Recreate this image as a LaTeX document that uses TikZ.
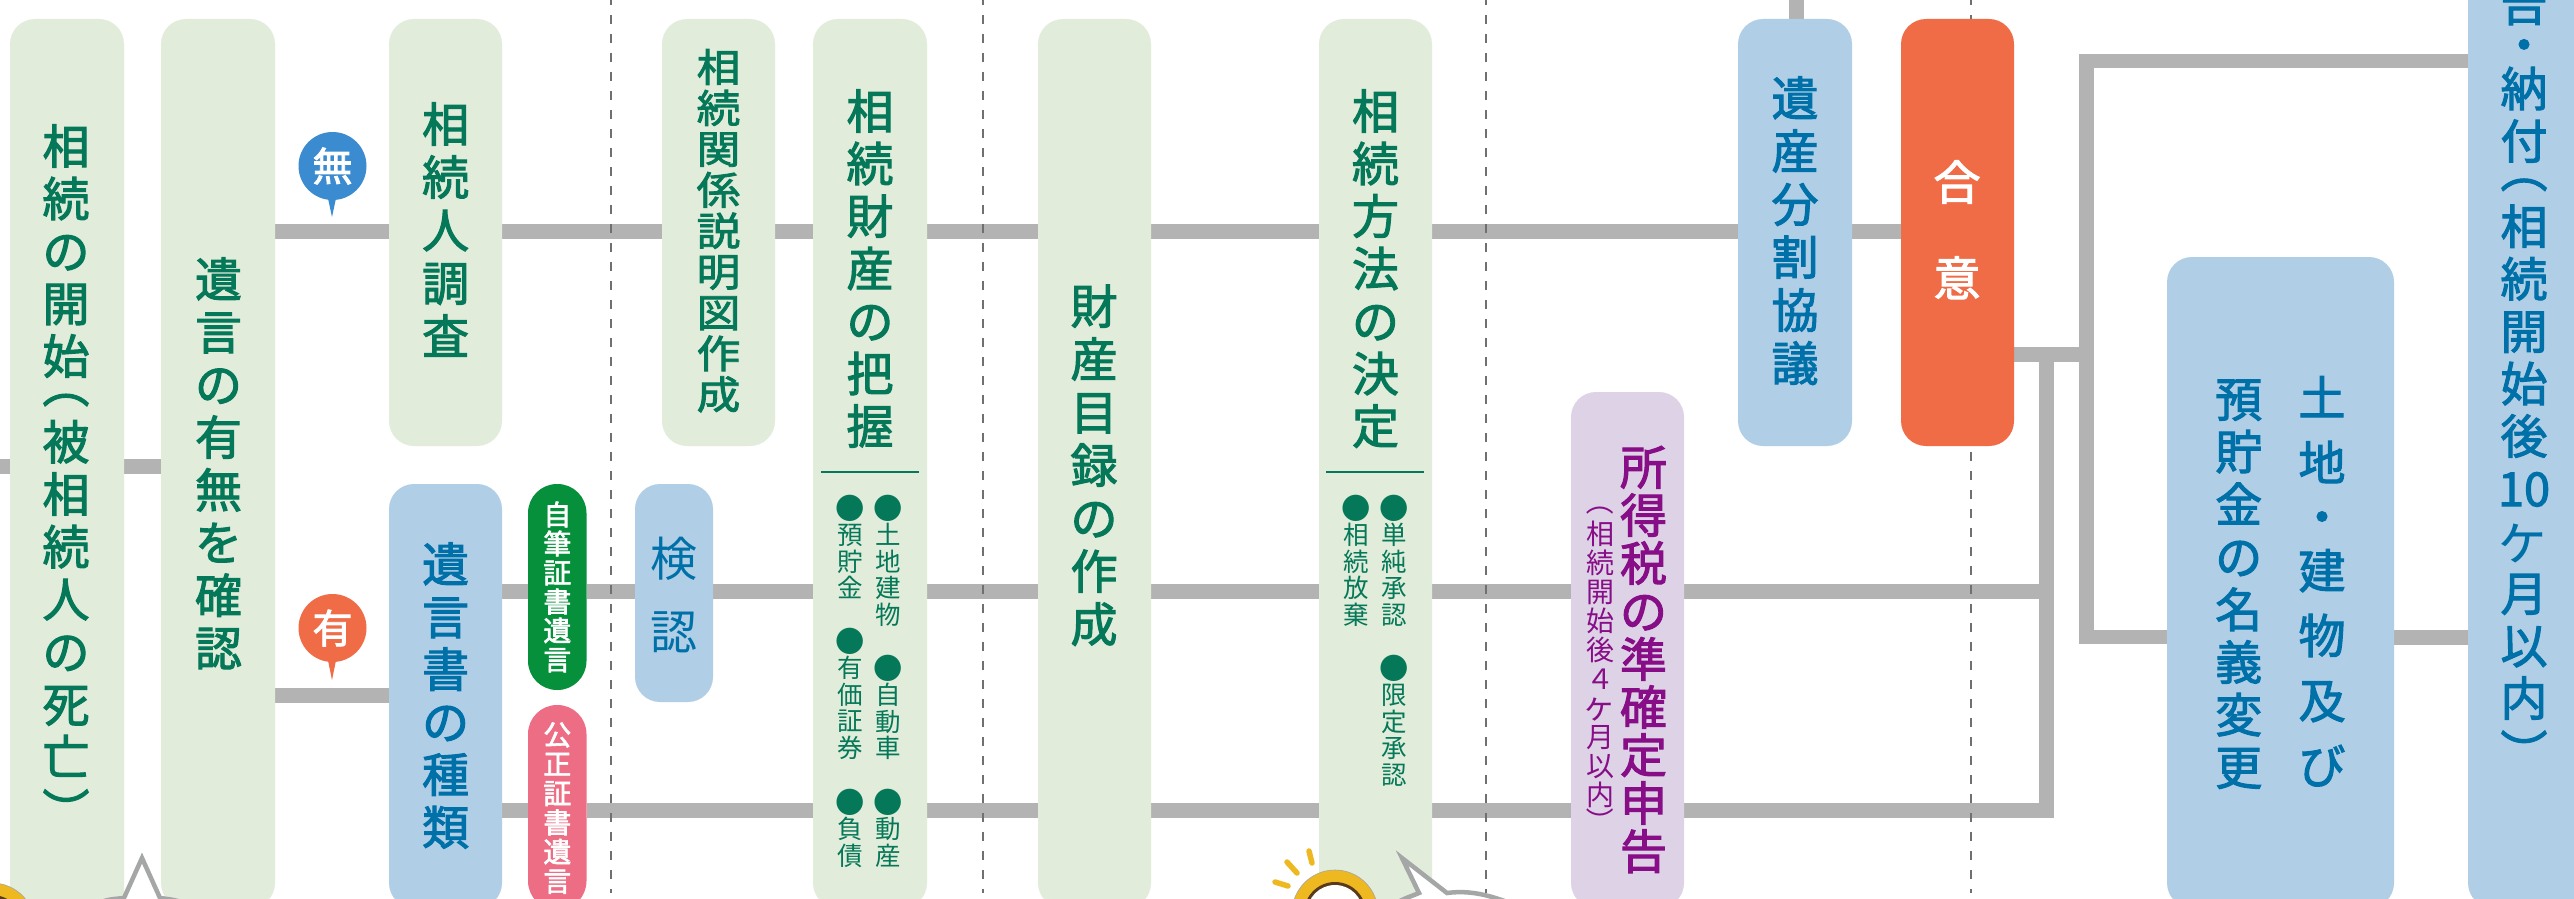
\documentclass[tikz,border=0pt]{standalone}
\usepackage{fontspec}
\usepackage{graphicx}
\usetikzlibrary{backgrounds}
\newfontfamily\jpr{Noto Sans CJK JP}
\newfontfamily\jpb[FakeBold=2.2]{Noto Sans CJK JP}
\newfontfamily\jpw[FakeBold=2.2,FakeStretch=1.12]{Noto Sans CJK JP}
\definecolor{linegray}{HTML}{B2B3B2}
\definecolor{dashgray}{HTML}{6F7071}
\definecolor{boxgreen}{HTML}{E2ECDB}
\definecolor{boxblue}{HTML}{B0CFE6}
\definecolor{boxpurple}{HTML}{DDD2E6}
\definecolor{boxorange}{HTML}{EF6C47}
\definecolor{pillgreen}{HTML}{07903C}
\definecolor{pillpink}{HTML}{ED6D84}
\definecolor{txtgreen}{HTML}{047858}
\definecolor{txtblue}{HTML}{0070A8}
\definecolor{txtpurple}{HTML}{880E87}
\definecolor{mkblue}{HTML}{3A8BCF}
\definecolor{bubblegray}{HTML}{A5A6A6}
\definecolor{bulbyellow}{HTML}{EDB820}
\definecolor{bulbbrown}{HTML}{5A3A1A}
\makeatletter
\newdimen\vtp
\def\vtcut{22}
\newcommand\vtpl{\raise.27em\hbox{\rotatebox[origin=c]{-90}{（}}}
\newcommand\vtpr{\lower.27em\hbox{\rotatebox[origin=c]{-90}{）}}}
\newcommand\vtdot{・}
\newcommand\vtke{\kern-.05em\hbox{\jpr\scalebox{1.2}{ヶ}}}
\newcommand\vtbul{\lower.06em\hbox{\scalebox{1.15}{●}}}
\def\vt@a{\vtpl}\def\vt@b{\vtpr}\def\vt@d{\vtdot}
\newcommand\vt@cell[1]{%
  \vtp=#1pt
  \ifx\vt@c\vt@a\advance\vtp by -\vtcut pt\fi
  \ifx\vt@c\vt@b\advance\vtp by -\vtcut pt\fi
  \ifx\vt@c\vt@d\advance\vtp by -\vtcut pt\fi
  \hbox to 1.2em{\hss\vrule height\vtp depth0pt width0pt
    \raise\dimexpr.5\vtp-.38em\relax\hbox{\smash{\vt@c}}\hss}}
\newcommand\vstack[2]{\vbox{\offinterlineskip\@tfor\vt@c:=#2\do{\vt@cell{#1}}}}
\makeatother
% \vt[style]{name}{x}{y of the first cell's centre}{pitch}{characters}
\newcommand\vt[6][]{\node[vtext,#1] (#2) at (#3,{#4-#5/2}) {\vstack{#5}{#6}};}
% \bx[style]{name}{x1}{y1}{x2}{y2}
\newcommand\bx[6][]{\node[boxnode,#1,minimum width={(#5-#3)*1pt},minimum height={(#6-#4)*1pt}] (#2) at ({(#3+#5)/2},{(#4+#6)/2}) {};}
\tikzset{
  boxnode/.style={rectangle,rounded corners=25pt,inner sep=0pt,outer sep=0pt,draw=none},
  gbox/.style={fill=boxgreen},
  bbox/.style={fill=boxblue},
  vtext/.style={anchor=north,inner sep=0pt,outer sep=0pt},
  tg/.style={text=txtgreen,font=\jpb\fontsize{47}{47}\selectfont},
  tb/.style={text=txtblue,font=\jpb\fontsize{47}{47}\selectfont},
  tw/.style={text=white,font=\jpb\fontsize{47}{47}\selectfont},
  tthin/.style={text=txtblue,font=\jpr\fontsize{47}{47}\selectfont},
  tdia/.style={text=txtgreen,font=\jpw\fontsize{39}{39}\selectfont},
  tbul/.style={text=txtgreen,font=\jpr\fontsize{25.5}{25.5}\selectfont},
  tpill/.style={text=white,font=\jpb\fontsize{28}{28}\selectfont},
  tpu/.style={text=txtpurple,font=\jpb\fontsize{47}{47}\selectfont},
  tpus/.style={text=txtpurple,font=\jpr\fontsize{28}{28}\selectfont},
  conn/.style={line width=15pt,color=linegray},
  connv/.style={line width=14.5pt,color=linegray,line join=miter},
  divider/.style={line width=2pt,color=dashgray,dash pattern=on 9pt off 10pt,dash phase=4pt},
  sepline/.style={line width=1.2pt,color=txtgreen},
  marker/.style={circle,minimum size=68pt,inner sep=0pt,outer sep=0pt,text=white,font=\jpb\fontsize{40}{40}\selectfont},
  bubble/.style={fill=white,draw=bubblegray,line width=4.5pt,line join=miter,miter limit=10},
  ray/.style={line width=5.5pt,line cap=round,color=bulbyellow}
}
\begin{document}
\begin{tikzpicture}[x=1pt,y=-1pt]
\path[use as bounding box] (0,0) rectangle (2574,899);
% boxes
\bx[gbox]{A}{10}{19}{124}{925}
\bx[gbox]{B}{161}{19}{275}{908}
\bx[gbox]{C}{389}{19}{502}{446}
\bx[bbox]{J}{389}{484}{502}{908}
\bx[gbox]{D}{662}{19}{775}{446}
\bx[gbox]{E}{813}{19}{927}{908}
\bx[gbox]{F}{1038}{19}{1151}{908}
\bx[gbox]{G}{1319}{19}{1432}{908}
\bx[bbox]{H}{1738}{19}{1852}{446}
\bx[fill=boxorange]{I}{1901}{19}{2014}{446}
\bx[bbox]{K}{635}{484}{713}{702}
\bx[fill=boxpurple]{L}{1571}{392}{1684}{908}
\bx[bbox]{M}{2167}{257}{2394}{908}
\bx[bbox]{R}{2468}{-60}{2600}{908}
\bx[fill=pillgreen,rounded corners=29pt]{P1}{528}{484}{586.5}{690}
\bx[fill=pillpink,rounded corners=29pt]{P2}{528}{705}{586.5}{910}
% row coordinates
\coordinate (r0) at (0,466.5);
\coordinate (r1) at (0,231.5);
\coordinate (r2) at (0,591.5);
\coordinate (r3) at (0,810.5);
\coordinate (r4) at (0,695.5);
\coordinate (r5) at (0,354.5);
\coordinate (top) at (1796.5,0);
\coordinate (v1) at (2046.5,0);
\coordinate (v1b) at (2046.5,818);
\coordinate (v2a) at (2086.5,61);
\coordinate (v2b) at (2086.5,637);
\begin{scope}[on background layer]
\fill[white] (0,0) rectangle (2574,899);
\draw[conn] (r0) -- (A.west |- r0);
\draw[conn] (A.east |- r0) -- (B.west |- r0);
\draw[conn] (B.east |- r1) -- (C.west |- r1);
\draw[conn] (C.east |- r1) -- (D.west |- r1);
\draw[conn] (D.east |- r1) -- (E.west |- r1);
\draw[conn] (E.east |- r1) -- (F.west |- r1);
\draw[conn] (F.east |- r1) -- (G.west |- r1);
\draw[conn] (G.east |- r1) -- (H.west |- r1);
\draw[conn] (H.east |- r1) -- (I.west |- r1);
\draw[conn] (top) -- (H.north -| top);
\draw[conn] (B.east |- r4) -- (J.west |- r4);
\draw[conn] (J.east |- r2) -- (P1.west |- r2);
\draw[conn] (P1.east |- r2) -- (K.west |- r2);
\draw[conn] (K.east |- r2) -- (E.west |- r2);
\draw[conn] (E.east |- r2) -- (F.west |- r2);
\draw[conn] (F.east |- r2) -- (G.west |- r2);
\draw[conn] (G.east |- r2) -- (L.west |- r2);
\draw[conn] (L.east |- r2) -- (v1 |- r2);
\draw[conn] (J.east |- r3) -- (P2.west |- r3);
\draw[conn] (P2.east |- r3) -- (E.west |- r3);
\draw[conn] (E.east |- r3) -- (F.west |- r3);
\draw[conn] (F.east |- r3) -- (G.west |- r3);
\draw[conn] (G.east |- r3) -- (L.west |- r3);
\draw[conn] (L.east |- r3) -- (v1 |- r3);
\draw[conn] (I.east |- r5) -- (v2a |- r5);
\draw[connv] (v1 |- r5) -- (v1b);
\draw[connv] (R.west |- v2a) -- (v2a) -- (v2b) -- (M.west |- v2b);
\draw[conn] (M.east |- v2b) -- (R.west |- v2b);
\foreach \dx in {611,983,1485.7,1971} \draw[divider] (\dx,0) -- (\dx,893);
\end{scope}
% markers
\fill[mkblue] (327.5,196) -- (332,217) -- (336.5,196) -- cycle;
\node[marker,fill=mkblue] (nashi) at (332.5,166) {無};
\fill[boxorange] (327.5,658) -- (332,680) -- (336.5,658) -- cycle;
\node[marker,fill=boxorange] (ari) at (332.5,628) {有};
% vertical texts
\vt[tg]{tA}{66}{146}{52.5}{相続の開始\vtpl 被相続人の死亡\vtpr}
\vt[tg]{tB}{218.5}{279}{52.7}{遺言の有無を確認}
\vt[tg]{tC}{445.6}{124}{53}{相続人調査}
\vt[tb]{tJ}{445.6}{564}{52.6}{遺言書の種類}
\vt[tdia]{tD}{718.5}{67}{40.9}{相続関係説明図作成}
\vt[tg]{tE}{870}{111}{52.5}{相続財産の把握}
\vt[tg]{tF}{1094}{306}{53}{財産目録の作成}
\vt[tg]{tG}{1375.5}{111}{52.5}{相続方法の決定}
\vt[tb]{tH}{1795}{98}{53}{遺産分割協議}
\vt[tw]{tI}{1957}{182}{96}{合意}
\vt[tthin]{tK}{674}{559}{73}{検認}
\vt[tpill]{tP1}{557.3}{514.5}{29}{自筆証書遺言}
\vt[tpill]{tP2}{557.3}{734.5}{29.3}{公正証書遺言}
\vt[tpu]{tL}{1643.5}{467}{48}{所得税の準確定申告}
\def\vtcut{20}
\vt[tpus]{tLs}{1600}{519}{29}{\vtpl 相続開始後４\vtke 月以内\vtpr}
\def\vtcut{22}
\vt[tb]{tM1}{2322}{397.5}{65}{土地\vtdot 建物及び}
\vt[tb]{tM2}{2238.7}{399}{52.6}{預貯金の名義変更}
\vt[tb]{tR}{2524}{3}{52.4}{告\vtdot 納付\vtpl 相続開始後{10}\vtke 月以内\vtpr}
% separators and bullet lists
\draw[sepline] (821,472) -- (919,472);
\draw[sepline] (1326,472) -- (1424,472);
\vt[tbul]{e1}{888}{508}{26.7}{\vtbul 土地建物}
\vt[tbul]{e2}{888}{668}{26.7}{\vtbul 自動車}
\vt[tbul]{e3}{888}{802}{26.7}{\vtbul 動産}
\vt[tbul]{e4}{850}{508}{26.7}{\vtbul 預貯金}
\vt[tbul]{e5}{850}{641}{26.7}{\vtbul 有価証券}
\vt[tbul]{e6}{850}{802}{26.7}{\vtbul 負債}
\vt[tbul]{g1}{1394}{508}{26.7}{\vtbul 単純承認}
\vt[tbul]{g2}{1394}{668}{26.7}{\vtbul 限定承認}
\vt[tbul]{g3}{1356}{508}{26.7}{\vtbul 相続放棄}
% speech bubbles
\filldraw[bubble] (95,905) .. controls (105,899) and (115,899) .. (124,898) -- (142,858) -- (160,898) .. controls (168,899) and (178,900) .. (190,905);
\filldraw[bubble] (1390,908) .. controls (1400,899) and (1410,897) .. (1419,893) -- (1402,858) -- (1447,893) .. controls (1470,890) and (1490,895) .. (1515,905);
% bulbs
\draw[ray] (1309,851) -- (1312,863);
\draw[ray] (1287,862) -- (1297,873);
\draw[ray] (1275,882) -- (1288,886);
\fill[bulbyellow,draw=bubblegray,line width=.6pt] (1335,913) circle (43);
\fill[bulbbrown] (1335,913) circle (31);
\fill[white] (1335,913) circle (28);
\fill[bulbyellow,draw=bubblegray,line width=.6pt] (-8,926) circle (43);
\fill[bulbbrown] (-8,926) circle (31);
\fill[white] (-8,926) circle (28);
\end{tikzpicture}
\end{document}
